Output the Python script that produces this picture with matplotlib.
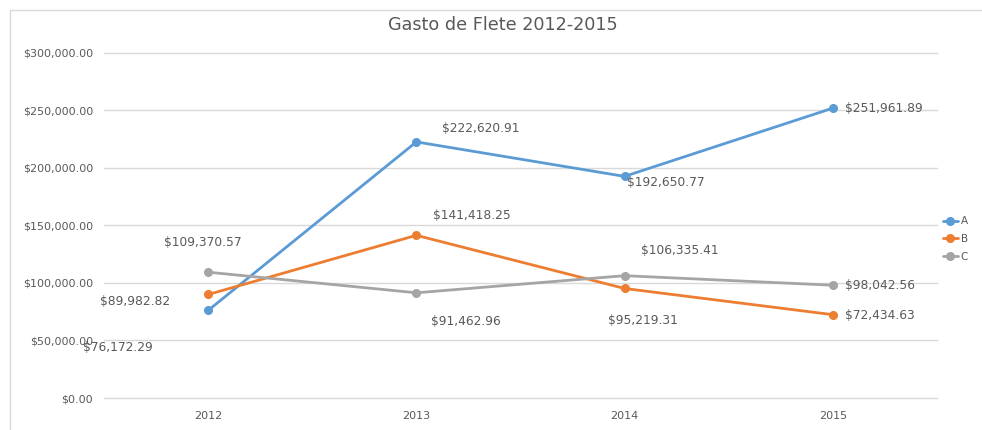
import matplotlib.pyplot as plt
from matplotlib.patches import Rectangle
from matplotlib.ticker import FuncFormatter

years = ["2012", "2013", "2014", "2015"]
serie_a = [76172.29, 222620.91, 192650.77, 251961.89]
serie_b = [89982.82, 141418.25, 95219.31, 72434.63]
serie_c = [109370.57, 91462.96, 106335.41, 98042.56]

# label offsets in pixels (dx, dy, ha) -- picked by eye
offs_a = [(-90, -37, "center"), (26, 13, "left"), (2, -6, "left"), (12, 0, "left")]
offs_b = [(-38, -7, "right"), (17, 20, "left"), (18, -32, "center"), (12, -1, "left")]
offs_c = [(-5, 30, "center"), (50, -29, "center"), (16, 25, "left"), (12, 0, "left")]

grey_txt = "#595959"

fig = plt.figure(figsize=(9.82, 4.3), dpi=100)
ax = fig.add_axes([0.106, 0.0744, 0.848, 0.8026])

x = list(range(len(years)))
series = [("A", serie_a, "#5B9BD5", offs_a),
          ("B", serie_b, "#ED7D31", offs_b),
          ("C", serie_c, "#A5A5A5", offs_c)]

for name, vals, col, offs in series:
    ax.plot(x, vals, color=col, lw=2.0, marker="o", ms=5.5, label=name,
            solid_capstyle="round", zorder=3)
    for xi, v, (dx, dy, ha) in zip(x, vals, offs):
        ax.annotate("${:,.2f}".format(v), (xi, v), xytext=(dx, dy),
                    textcoords="offset pixels", ha=ha, va="center",
                    fontsize=8.8, color=grey_txt)

ax.set_xlim(-0.5, 3.5)
ax.set_ylim(0, 300000)
ax.set_yticks(range(0, 300001, 50000))
ax.yaxis.set_major_formatter(FuncFormatter(lambda v, p: "${:,.2f}".format(v)))
ax.set_xticks(x)
ax.set_xticklabels(years)
ax.tick_params(length=0, colors=grey_txt, labelsize=8)
ax.tick_params(axis="y", pad=8)
ax.tick_params(axis="x", pad=9)
ax.grid(axis="y", color="#D9D9D9", lw=1, clip_on=False)
ax.set_axisbelow(True)
for s in ax.spines.values():
    s.set_visible(False)

fig.text(0.512, 0.942, "Gasto de Flete 2012-2015", ha="center", va="center",
         fontsize=12.7, color=grey_txt)

fig.legend(loc="center left", bbox_to_anchor=(0.955, 0.444), frameon=False,
           fontsize=7.5, labelcolor=grey_txt, handlelength=1.4, handletextpad=0.3,
           labelspacing=0.75, borderpad=0)

fig.patches.append(Rectangle((10 / 982, -0.1), 1.2, 1.0767, transform=fig.transFigure,
                             fill=False, ec="#D9D9D9", lw=1))

fig.savefig("out.png", dpi=100)
